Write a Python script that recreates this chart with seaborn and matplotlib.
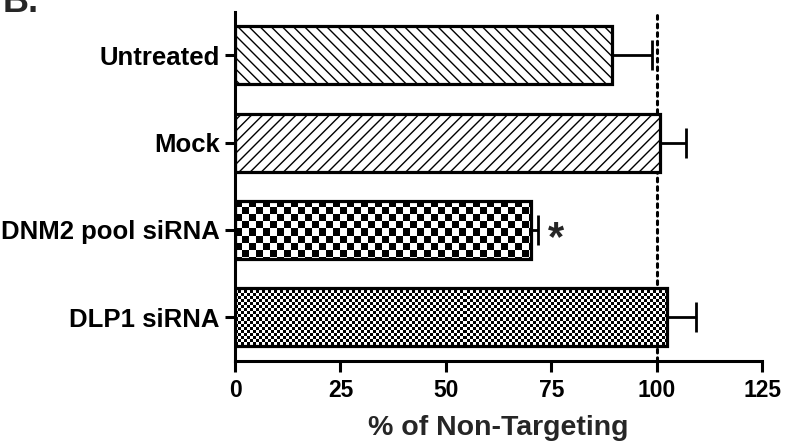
import numpy as np
import pandas as pd
import matplotlib
matplotlib.use("Agg")
import matplotlib.pyplot as plt
import seaborn as sns

categories = ["Untreated", "Mock", "DNM2 pool siRNA", "DLP1 siRNA"]
values = [89.3, 100.7, 70.1, 102.4]
errors = [9.5, 6.2, 1.8, 6.8]
x_ticks = [0, 25, 50, 75, 100, 125]
xlabel = "% of Non-Targeting"
reference_line = 100
significant = ["", "", "*", ""]
panel_label = "B."

sns.set_style("ticks")
plt.rcParams["font.family"] = ["Liberation Sans", "DejaVu Sans"]
plt.rcParams["font.weight"] = "bold"
plt.rcParams['hatch.linewidth'] = 1.0

fig = plt.figure(figsize=(7.86, 4.43), dpi=100)
ax = fig.add_axes([0.299, 0.185, 0.671, 0.789])

df = pd.DataFrame({"cat": categories, "val": values})
sns.barplot(data=df, x="val", y="cat", orient="h", color="white",
            edgecolor="black", linewidth=2.3, width=0.665, errorbar=None,
            ax=ax, saturation=1)

ax.set_xlim(0, 125)
ax.set_ylim(3.5, -0.5)

patches = ax.patches
hatches = ["\\\\\\", "///", None, None]
checker = [None, None, 7.0, 3.0]
for p, h, c in zip(patches, hatches, checker):
    p.set_facecolor("white")
    p.set_edgecolor("black")
    p.set_linewidth(2.3)
    if h:
        p.set_hatch(h)
        p.set_zorder(2)
    if c:
        x0, y0, w, hh = p.get_x(), p.get_y(), p.get_width(), p.get_height()
        (px0, py0) = ax.transData.transform((x0, y0))
        (px1, py1) = ax.transData.transform((x0 + w, y0 + hh))
        pw, ph = abs(px1 - px0), abs(py1 - py0)
        ncol = int(np.ceil(pw / c))
        nrow = int(np.ceil(ph / c))
        cw = c * w / pw
        chh = c * hh / ph
        arr = (np.add.outer(np.arange(nrow), np.arange(ncol)) % 2).astype(float)
        im = ax.imshow(arr, cmap="gray", vmin=0, vmax=1, interpolation="nearest",
                       aspect="auto",
                       extent=(x0, x0 + ncol * cw, y0 + nrow * chh, y0),
                       zorder=1.5)
        im.set_clip_path(p)
        p.set_facecolor("none")
        p.set_zorder(2)

ax.errorbar(values, np.arange(len(values)),
            xerr=[np.zeros(len(values)), errors], fmt="none",
            ecolor="black", elinewidth=2.0, capsize=10.5, capthick=2.0, zorder=3)

ax.axvline(reference_line, color="black", lw=2.2, linestyle=(0, (1.2, 1.6)),
           dash_capstyle="round", zorder=1)

for i, s in enumerate(significant):
    if s:
        ax.text(values[i] + errors[i] + 2.3, i + 0.1, s, ha="left", va="center",
                fontsize=30, fontweight="bold")

ax.set_xlim(0, 125)
ax.set_ylim(3.5, -0.5)
ax.set_xticks(x_ticks)
ax.set_xticklabels([str(t) for t in x_ticks])
ax.set_xlabel(xlabel, fontsize=20.5, fontweight="bold", labelpad=9)
ax.set_ylabel("")

for sp in ["top", "right"]:
    ax.spines[sp].set_visible(False)
for sp in ["left", "bottom"]:
    ax.spines[sp].set_linewidth(2.2)
    ax.spines[sp].set_color("black")

ax.tick_params(axis="x", length=8, width=2.2, labelsize=16.5, pad=5, colors="black")
ax.tick_params(axis="y", length=7, width=2.2, labelsize=18.5, pad=4, colors="black")
for lab in ax.get_xticklabels() + ax.get_yticklabels():
    lab.set_fontweight("bold")

fig.text(0.003, 0.973, panel_label, fontsize=26, fontweight="bold",
         ha="left", va="baseline")

fig.savefig("out.png", dpi=100)
